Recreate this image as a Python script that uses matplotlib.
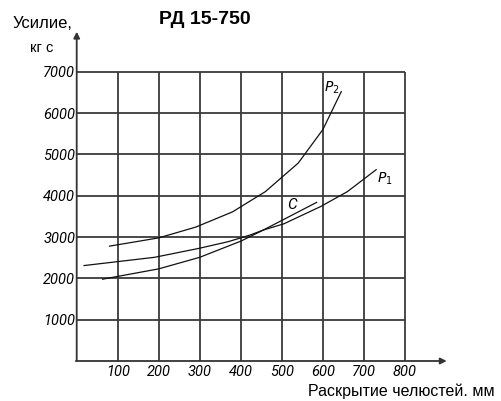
import matplotlib
matplotlib.use("Agg")
import matplotlib.pyplot as plt

plt.rcParams['font.family'] = ['Liberation Sans', 'DejaVu Sans']

# Data
x_ticks = [100, 200, 300, 400, 500, 600, 700, 800]
y_ticks = [1000, 2000, 3000, 4000, 5000, 6000, 7000]

p2_x = [80, 200, 290, 380, 460, 540, 600, 645]
p2_y = [2780, 2980, 3240, 3610, 4100, 4790, 5600, 6520]

p1_x = [18, 190, 300, 370, 423, 455, 505, 595, 660, 730]
p1_y = [2310, 2510, 2730, 2890, 3050, 3170, 3320, 3740, 4100, 4630]

c_x = [63, 200, 300, 400, 455, 585]
c_y = [1980, 2230, 2510, 2900, 3170, 3840]

title = "РД 15-750"
ylabel1 = "Усилие,"
ylabel2 = "кг с"
xlabel = "Раскрытие челюстей. мм"

ital = ['Roboto', 'Liberation Sans', 'DejaVu Sans']

fig = plt.figure(figsize=(5.02, 4.01), dpi=100)
W, H = 502, 401
x0px, x1px = 76.7, 446.7
y0px, y1px = 361.0, 31.7
ax = fig.add_axes([x0px / W, 1 - y0px / H, (x1px - x0px) / W, (y0px - y1px) / H])
ax.set_xlim(0, 902)
ax.set_ylim(0, 7970)
for s in ax.spines.values():
    s.set_visible(False)

grid_col = '#3a3a3a'
ax.vlines(x_ticks, 0, max(y_ticks), color=grid_col, lw=1.3)
ax.hlines(y_ticks, 0, max(x_ticks), color=grid_col, lw=1.3)

# axes with arrows
ax.annotate('', xy=(902, 0), xytext=(-2, 0),
            arrowprops=dict(arrowstyle='-|>', color='#333333', lw=1.3,
                            mutation_scale=9, shrinkA=0, shrinkB=0),
            annotation_clip=False)
ax.annotate('', xy=(0, 7970), xytext=(0, 0),
            arrowprops=dict(arrowstyle='-|>', color='#333333', lw=1.3,
                            mutation_scale=9, shrinkA=0, shrinkB=0),
            annotation_clip=False)

ax.set_xticks(x_ticks)
ax.set_xticklabels([str(v) for v in x_ticks], fontstyle='italic', fontsize=10.5,
                   family=ital)
ax.set_yticks(y_ticks)
ax.set_yticklabels([str(v) for v in y_ticks], fontstyle='italic', fontsize=10.5,
                   family=ital)
ax.tick_params(length=0, pad=3)
ax.tick_params(axis='y', pad=1)

ax.plot(p2_x, p2_y, color='#111111', lw=0.9)
ax.plot(p1_x, p1_y, color='#111111', lw=0.9)
ax.plot(c_x, c_y, color='#111111', lw=0.9)

ax.text(621, 6620, r'$\mathit{P}_{\mathit{2}}$', fontsize=10, ha='center', va='center',
        math_fontfamily='dejavusans')
ax.text(752, 4420, r'$\mathit{P}_{\mathit{1}}$', fontsize=10, ha='center', va='center',
        math_fontfamily='dejavusans')
ax.text(524, 3780, 'C', fontsize=11, ha='center', va='center', fontstyle='italic',
        family=ital)

fig.text(205 / W, 1 - 20 / H, title, fontsize=14, fontweight='bold',
         ha='center', va='center')
fig.text(42 / W, 1 - 23 / H, ylabel1, fontsize=12, ha='center', va='center')
fig.text(42 / W, 1 - 48 / H, ylabel2, fontsize=10.5, ha='center', va='center')
fig.text(495 / W, 1 - 391 / H, xlabel, fontsize=11.5, ha='right', va='center')

fig.savefig('out.png', dpi=100)
